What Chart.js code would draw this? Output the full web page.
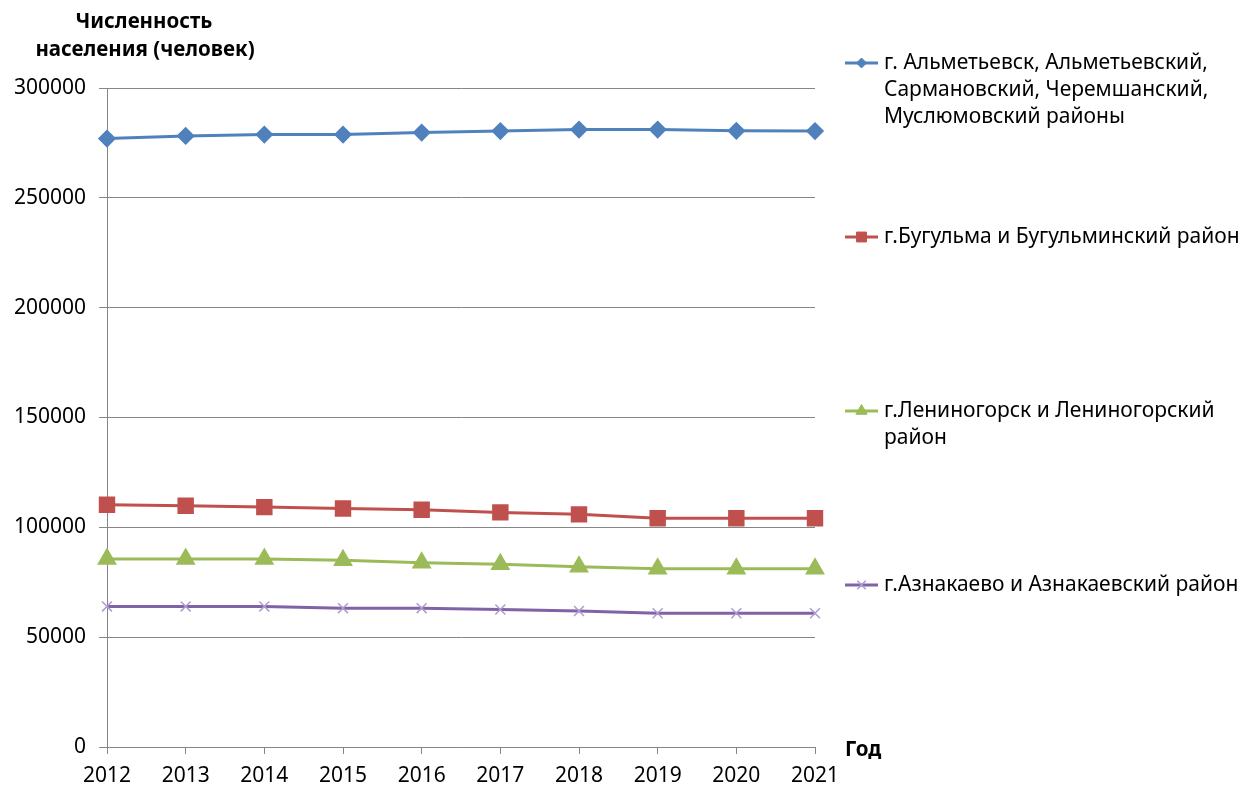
<!DOCTYPE html>
<html>
<head>
<meta charset="utf-8">
<script src="https://cdn.jsdelivr.net/npm/chart.js@4.4.1/dist/chart.umd.min.js"></script>
<style>
  html, body { margin: 0; padding: 0; background: #ffffff; }
  #wrap { width: 1250px; height: 787px; }
</style>
</head>
<body>
<div id="wrap"><canvas id="chart" width="1250" height="787"></canvas></div>
<script>
// Годы наблюдения
const years = ['2012', '2013', '2014', '2015', '2016', '2017', '2018', '2019', '2020', '2021'];

// Численность населения по районам, человек
const almetyevsk = [277000, 278200, 278800, 278800, 279700, 280400, 281100, 281100, 280500, 280400];
const bugulma    = [110300, 109800, 109200, 108600, 108000, 106800, 105900, 104100, 104100, 104100];
const leninogorsk = [85600, 85600, 85600, 85000, 83900, 83200, 82100, 81100, 81100, 81100];
const aznakayevo  = [64000, 64000, 64000, 63200, 63200, 62600, 61900, 60900, 60900, 60900];

// Подписи серий (строки для переноса в легенде)
const seriesLabels = [
  ['г. Альметьевск, Альметьевский,', 'Сармановский, Черемшанский,', 'Муслюмовский районы'],
  ['г.Бугульма и Бугульминский район'],
  ['г.Лениногорск и Лениногорский', 'район'],
  ['г.Азнакаево и Азнакаевский район']
];

const yTicks = [0, 50000, 100000, 150000, 200000, 250000, 300000];
const yTitle = ['Численность', 'населения (человек)'];
const xTitle = 'Год';

const FONT = "'Noto Sans', 'Open Sans', sans-serif";

const colors = {
  blue: '#4F81BD',
  red: '#C0504D',
  green: '#9BBB59',
  purple: '#7F63A6',
  purpleMark: '#AE9BCF'
};

const datasets = [
  { label: seriesLabels[0].join(' '), data: almetyevsk, borderColor: colors.blue, backgroundColor: colors.blue,
    pointStyle: 'rectRot', pointRadius: 7, pointBorderColor: colors.blue, pointBackgroundColor: colors.blue,
    lgY: 63, lgR: 5 },
  { label: seriesLabels[1].join(' '), data: bugulma, borderColor: colors.red, backgroundColor: colors.red,
    pointStyle: 'rect', pointRadius: 9.5, pointBorderColor: colors.red, pointBackgroundColor: colors.red,
    lgY: 237, lgR: 7 },
  { label: seriesLabels[2].join(' '), data: leninogorsk, borderColor: colors.green, backgroundColor: colors.green,
    pointStyle: 'triangle', pointRadius: 8.5, pointBorderColor: colors.green, pointBackgroundColor: colors.green,
    lgY: 411, lgR: 6.5 },
  { label: seriesLabels[3].join(' '), data: aznakayevo, borderColor: colors.purple, backgroundColor: colors.purple,
    pointStyle: 'crossRot', pointRadius: 7, pointBorderWidth: 1.5, pointBorderColor: colors.purpleMark, pointBackgroundColor: colors.purpleMark,
    lgY: 585, lgR: 6 }
].map(d => Object.assign({ borderWidth: 3, tension: 0, fill: false, pointHoverRadius: d.pointRadius }, d));

// Подписи осей и легенда справа
const decorPlugin = {
  id: 'decor',
  afterDraw(chart) {
    const ctx = chart.ctx;
    const area = chart.chartArea;
    ctx.save();
    ctx.fillStyle = '#000000';

    // Заголовок оси Y
    ctx.font = "bold 20.5px " + FONT;
    ctx.textAlign = 'center';
    ctx.textBaseline = 'middle';
    ctx.fillText(yTitle[0], 144, 22);
    ctx.fillText(yTitle[1], 145, 50);
    // Заголовок оси X
    ctx.textAlign = 'left';
    ctx.fillText(xTitle, area.right + 30, area.bottom + 3);

    // Легенда
    ctx.font = "21px " + FONT;
    chart.data.datasets.forEach((ds, i) => {
      const lines = seriesLabels[i];
      const cy = ds.lgY;
      const x0 = 845, x1 = 878;
      ctx.strokeStyle = ds.borderColor;
      ctx.lineWidth = 3;
      ctx.beginPath();
      ctx.moveTo(x0, cy);
      ctx.lineTo(x1, cy);
      ctx.stroke();
      ctx.fillStyle = ds.pointBackgroundColor;
      ctx.strokeStyle = ds.pointBorderColor;
      ctx.lineWidth = ds.pointBorderWidth || 1;
      Chart.helpers.drawPoint(ctx, {
        pointStyle: ds.pointStyle,
        radius: ds.lgR,
        borderWidth: ds.pointBorderWidth || 1,
        rotation: 0
      }, (x0 + x1) / 2, cy);
      ctx.fillStyle = '#000000';
      ctx.textAlign = 'left';
      ctx.textBaseline = 'middle';
      lines.forEach((t, k) => ctx.fillText(t, 884, cy + k * 27));
    });
    ctx.restore();
  }
};

new Chart(document.getElementById('chart'), {
  type: 'line',
  data: { labels: years, datasets },
  options: {
    responsive: false,
    animation: false,
    devicePixelRatio: 1,
    layout: { padding: { top: 88, right: 435, bottom: 0, left: 0 } },
    plugins: {
      legend: { display: false },
      tooltip: { enabled: false }
    },
    scales: {
      x: {
        offset: false,
        grid: { display: true, drawOnChartArea: false, drawTicks: true, tickLength: 7, color: '#868686', lineWidth: 1 },
        border: { display: true, color: '#868686', width: 1 },
        ticks: { color: '#000000', font: { family: FONT, size: 21 }, padding: 9, maxRotation: 0, autoSkip: false },
        afterFit(scale) { scale.height = 40; }
      },
      y: {
        min: 0,
        max: 300000,
        afterBuildTicks(scale) { scale.ticks = yTicks.map(v => ({ value: v })); },
        grid: { drawOnChartArea: true, drawTicks: true, tickLength: 8, color: '#868686', lineWidth: 1 },
        border: { display: true, color: '#868686', width: 1 },
        ticks: { color: '#000000', font: { family: FONT, size: 21 }, padding: 13, callback: v => String(v) },
        afterFit(scale) { scale.width = 107; }
      }
    }
  },
  plugins: [decorPlugin]
});
</script>
</body>
</html>
